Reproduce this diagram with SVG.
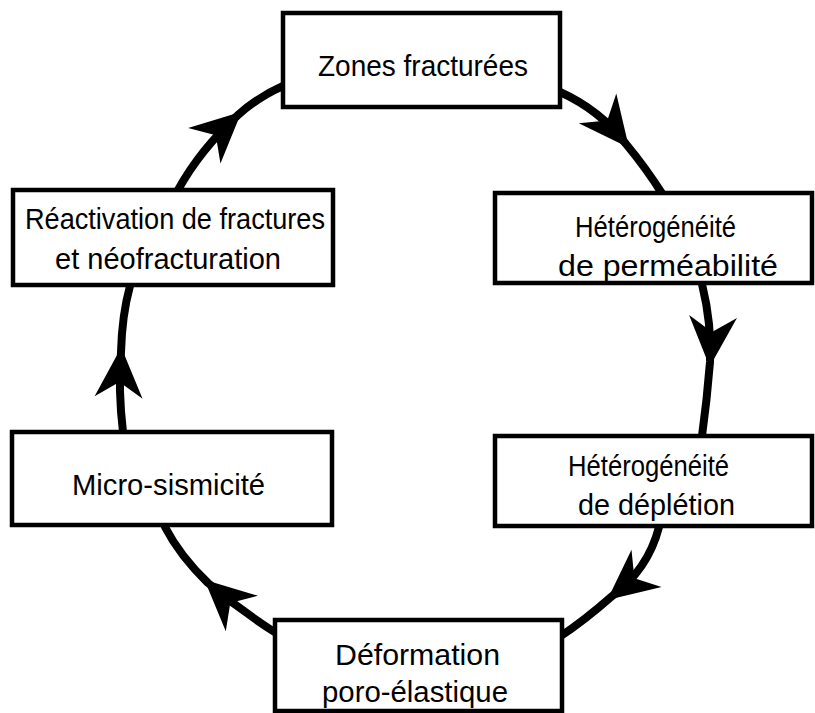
<svg xmlns="http://www.w3.org/2000/svg" width="815" height="713" viewBox="0 0 815 713">
<style>
.box{fill:#fff;stroke:#000;stroke-width:4.5}
.lbl{font-family:"Liberation Sans",Arial,sans-serif;font-size:30px;fill:#000;text-anchor:start}
.con{fill:none;stroke:#000;stroke-width:8;stroke-linecap:round;marker-mid:url(#ah)}
</style>
<defs>
<marker id="ah" markerUnits="userSpaceOnUse" orient="auto" markerWidth="60" markerHeight="60" refX="0" refY="0" viewBox="-45 -25 50 50" overflow="visible">
<path d="M4,0 L-38,-20 L-25,0 L-38,20 Z" fill="#000"/>
</marker>
</defs>
<rect width="815" height="713" fill="#fff"/>
<g id="connectors">
<path class="con" d="M560,92 Q600,110 626,144 Q646,168 663,195"/>
<path class="con" d="M702,284 Q712,325 710,362 Q707,400 702,436"/>
<path class="con" d="M659,527 Q648,570 611,597 Q585,620 558,638"/>
<path class="con" d="M276,633 Q240,610 208,583 Q180,556 165,527"/>
<path class="con" d="M123,432 Q118,390 121,352 Q122,315 130,286"/>
<path class="con" d="M178,190 Q200,150 238,115 Q258,97 283,86"/>
</g>
<g id="n1">
<rect class="box" x="283" y="13" width="277" height="94"/>
<text class="lbl" x="318" y="76" textLength="210" lengthAdjust="spacingAndGlyphs">Zones fracturées</text>
</g>
<g id="n2">
<rect class="box" x="13" y="190" width="320" height="95"/>
<text class="lbl" x="25" y="229" textLength="300" lengthAdjust="spacingAndGlyphs">Réactivation de fractures</text>
<text class="lbl" x="55" y="269" textLength="226" lengthAdjust="spacingAndGlyphs">et néofracturation</text>
</g>
<g id="n3">
<rect class="box" x="495" y="193" width="317" height="90"/>
<text class="lbl" x="575" y="237" textLength="161" lengthAdjust="spacingAndGlyphs">Hétérogénéité</text>
<text class="lbl" x="558" y="276" textLength="220" lengthAdjust="spacingAndGlyphs">de perméabilité</text>
</g>
<g id="n4">
<rect class="box" x="12" y="432" width="320" height="93"/>
<text class="lbl" x="72" y="495" textLength="193" lengthAdjust="spacingAndGlyphs">Micro-sismicité</text>
</g>
<g id="n5">
<rect class="box" x="495" y="436" width="317" height="90"/>
<text class="lbl" x="568" y="476" textLength="161" lengthAdjust="spacingAndGlyphs">Hétérogénéité</text>
<text class="lbl" x="578" y="515" textLength="157" lengthAdjust="spacingAndGlyphs">de déplétion</text>
</g>
<g id="n6">
<rect class="box" x="275" y="620" width="287" height="91"/>
<text class="lbl" x="335" y="665" textLength="165" lengthAdjust="spacingAndGlyphs">Déformation</text>
<text class="lbl" x="322" y="702" textLength="186" lengthAdjust="spacingAndGlyphs">poro-élastique</text>
</g>
</svg>
